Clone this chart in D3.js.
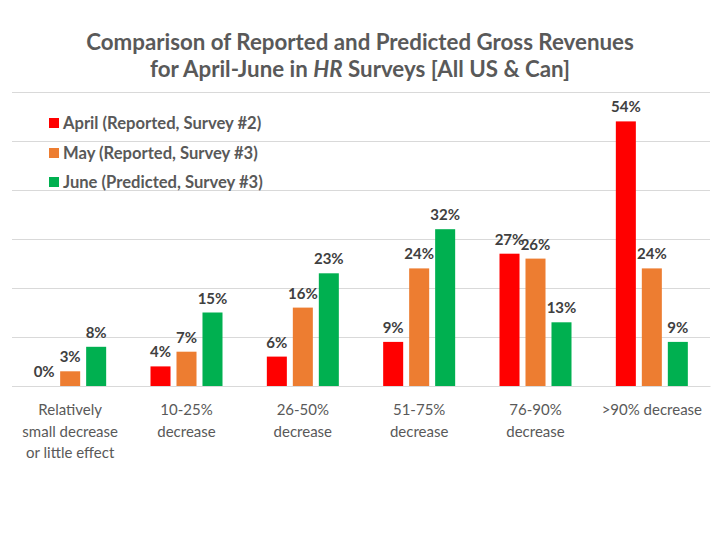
<!DOCTYPE html>
<html>
<head>
<meta charset="utf-8">
<script src="https://cdn.jsdelivr.net/npm/d3@7"></script>
<style>
  body { margin: 0; background: #fff; }
  text { font-family: Lato, "Open Sans", sans-serif; }
</style>
</head>
<body>
<script>
var svgWidth = 720;
var svgHeight = 540;

var margin = { top: 92, right: 10, bottom: 154, left: 12 };
var width = svgWidth - margin.left - margin.right;
var height = svgHeight - margin.top - margin.bottom;

// data
var categories = [
  ["Relatively", "small decrease", "or little effect"],
  ["10-25%", "decrease"],
  ["26-50%", "decrease"],
  ["51-75%", "decrease"],
  ["76-90%", "decrease"],
  [">90% decrease"]
];
var seriesNames = ["April (Reported, Survey #2)", "May (Reported, Survey #3)", "June (Predicted, Survey #3)"];
var seriesColors = ["#ff0000", "#ed7d31", "#00b050"];
var april = [0, 4, 6, 9, 27, 54];
var may = [3, 7, 16, 24, 26, 24];
var june = [8, 15, 23, 32, 13, 9];
var yTicks = [0, 10, 20, 30, 40, 50, 60];

var seriesValues = [april, may, june];

var svg = d3.select("body")
  .append("svg")
  .attr("width", svgWidth)
  .attr("height", svgHeight);

// title
var title = svg.append("text")
  .attr("x", 360)
  .attr("text-anchor", "middle")
  .attr("fill", "#595959")
  .attr("font-size", "22.3px")
  .attr("font-weight", "bold");
title.append("tspan").attr("x", 360).attr("y", 50)
  .text("Comparison of Reported and Predicted Gross Revenues");
var line2 = title.append("tspan").attr("x", 360).attr("y", 77);
line2.append("tspan").text("for April-June in ");
line2.append("tspan").attr("font-style", "italic").text("HR");
line2.append("tspan").text(" Surveys [All US & Can]");

var chartGroup = svg.append("g")
  .attr("transform", `translate(${margin.left}, ${margin.top})`);

var idx = d3.range(categories.length);

var x0 = d3.scaleBand()
  .domain(idx)
  .range([0, width]);

var x1 = d3.scaleBand()
  .domain(d3.range(seriesNames.length))
  .range([x0.bandwidth() / 2 - 36, x0.bandwidth() / 2 + 36])
  .paddingInner(0.23);

var y = d3.scaleLinear()
  .domain([0, 60])
  .range([height, 0]);

// gridlines
chartGroup.append("g")
  .call(d3.axisLeft(y).tickValues(yTicks).tickSize(-width).tickFormat(""))
  .call(g => g.select(".domain").remove())
  .call(g => g.selectAll("line").attr("stroke", "#d9d9d9").attr("stroke-width", 1));

// bars
var groups = chartGroup.selectAll(".cat")
  .data(idx)
  .enter()
  .append("g")
  .attr("transform", d => `translate(${x0(d)}, 0)`);

groups.selectAll("rect")
  .data(i => seriesValues.map((vals, s) => ({ s: s, v: vals[i] })))
  .enter()
  .append("rect")
  .attr("x", d => x1(d.s))
  .attr("width", x1.bandwidth())
  .attr("y", d => y(d.v))
  .attr("height", d => height - y(d.v))
  .attr("fill", d => seriesColors[d.s]);

groups.selectAll(".val")
  .data(i => seriesValues.map((vals, s) => ({ s: s, v: vals[i] })))
  .enter()
  .append("text")
  .attr("x", d => x1(d.s) + x1.bandwidth() / 2)
  .attr("y", d => y(d.v) - 9)
  .attr("text-anchor", "middle")
  .attr("font-size", "15px")
  .attr("font-weight", "bold")
  .attr("fill", "#404040")
  .text(d => d.v + "%");

// category labels
var xAxis = chartGroup.append("g")
  .attr("transform", `translate(0, ${height})`)
  .call(d3.axisBottom(x0).tickSize(0).tickFormat(""));
xAxis.select(".domain").attr("stroke", "#d9d9d9");

xAxis.selectAll(".tick").each(function(d) {
  var t = d3.select(this).append("text")
    .attr("text-anchor", "middle")
    .attr("fill", "#595959")
    .attr("font-size", "15px");
  categories[d].forEach(function(line, k) {
    t.append("tspan").attr("x", 0).attr("y", 29 + k * 21.5).text(line);
  });
});

// legend
var legend = svg.append("g")
  .attr("transform", "translate(49, 0)");
var legendY = [123, 153, 182];
seriesNames.forEach(function(name, s) {
  legend.append("rect")
    .attr("x", 0)
    .attr("y", legendY[s] - 5)
    .attr("width", 10)
    .attr("height", 10)
    .attr("fill", seriesColors[s]);
  legend.append("text")
    .attr("x", 14)
    .attr("y", legendY[s] + 6)
    .attr("font-size", "16.6px")
    .attr("font-weight", "bold")
    .attr("fill", "#595959")
    .text(name);
});
</script>
</body>
</html>
